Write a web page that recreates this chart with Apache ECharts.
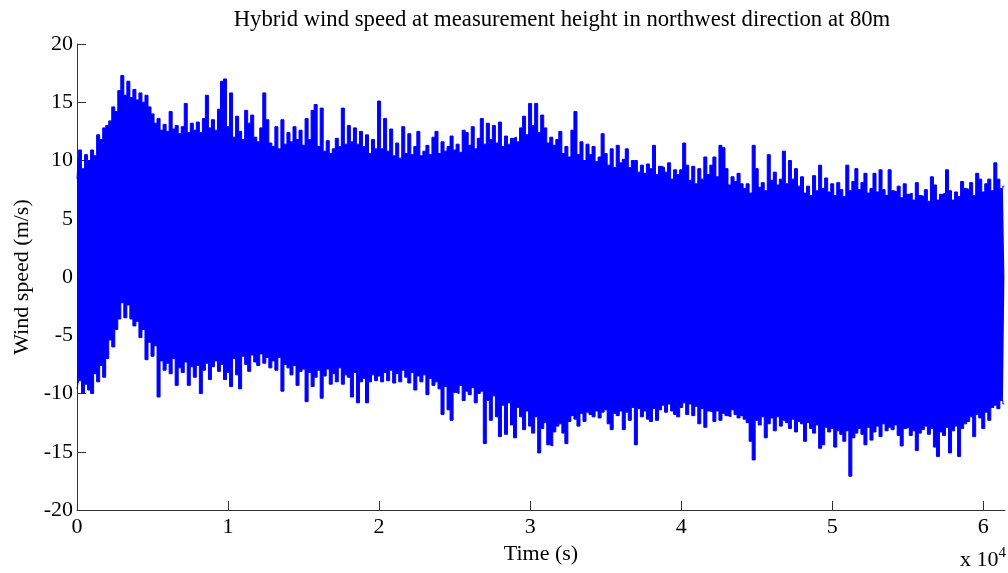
<!DOCTYPE html>
<html>
<head>
<meta charset="utf-8">
<script src="https://cdn.jsdelivr.net/npm/echarts@6/dist/echarts.min.js"></script>
<style>
  html, body { margin: 0; padding: 0; background: #fff; }
  #chart { width: 1008px; height: 573px; }
</style>
</head>
<body>
<div id="chart"></div>
<script>
// Sampling interval of the envelope records (seconds)
const SAMPLE_STEP = 200;
const T_END = 61440;

// Upper envelope of the hybrid wind speed (m/s), one value per SAMPLE_STEP
const upperEnvelope = [
  8.4, 10.9, 9.3, 10.5, 10.0,
  10.9, 10.4, 12.2, 11.8, 12.8,
  13.0, 13.4, 14.6, 14.2, 16.0,
  17.3, 15.6, 16.8, 15.4, 16.1,
  15.2, 15.8, 15.0, 15.6, 14.6,
  14.0, 13.2, 13.6, 12.6, 13.1,
  12.5, 14.2, 12.7, 13.0, 12.3,
  12.9, 14.9, 12.4, 13.2, 12.6,
  13.3, 12.4, 13.6, 15.6, 12.8,
  13.5, 12.6, 14.4, 16.8, 17.0,
  12.9, 15.8, 12.0, 13.8, 12.5,
  11.8, 14.3, 13.2, 13.9, 12.0,
  11.6, 12.8, 15.8, 13.5, 11.5,
  11.2, 12.9, 11.0, 13.5, 11.4,
  12.4, 11.6, 12.9, 11.8, 12.6,
  11.3, 13.6, 11.8, 14.3, 14.8,
  11.2, 14.5, 10.8, 11.7, 10.6,
  11.0, 11.9, 11.2, 14.5, 11.4,
  13.0, 11.6, 12.8, 11.4, 12.5,
  11.2, 12.2, 10.6, 11.8, 11.0,
  15.1, 11.0, 13.6, 10.8, 12.7,
  10.4, 11.5, 10.2, 12.9, 10.6,
  12.3, 10.5, 11.2, 12.5, 10.4,
  10.8, 11.3, 10.5, 12.0, 12.5,
  10.6, 11.6, 10.8, 11.2, 12.1,
  10.9, 11.4, 10.7, 12.6, 12.4,
  11.3, 12.9, 11.0, 11.9, 13.6,
  11.4, 13.2, 11.8, 13.0, 11.5,
  13.3, 11.2, 12.1, 11.4, 11.9,
  12.0, 11.6, 12.8, 13.8, 12.2,
  14.9, 13.0, 14.9, 12.4, 13.9,
  12.8, 11.5, 12.0, 11.3, 11.8,
  12.5, 10.6, 11.2, 10.3, 12.6,
  14.2, 10.5, 11.6, 10.0, 11.4,
  10.5, 11.2, 9.9, 10.3, 12.3,
  10.6, 9.6, 11.0, 9.4, 11.3,
  9.8, 10.1, 11.0, 9.4, 10.0,
  10.0, 9.0, 9.6, 8.9, 9.7,
  9.3, 11.3, 8.8, 9.5, 9.4,
  9.0, 9.8, 8.4, 9.2, 8.8,
  9.2, 11.5, 9.6, 8.3, 9.5,
  8.0, 9.3, 8.4, 10.3, 8.8,
  9.6, 10.3, 8.6, 11.3, 11.1,
  9.3, 7.9, 8.6, 8.2, 8.9,
  8.0, 7.6, 8.0, 7.2, 11.3,
  9.3, 7.7, 8.1, 7.4, 10.5,
  8.3, 9.0, 7.9, 8.4, 10.8,
  8.0, 10.0, 8.4, 9.3, 7.8,
  8.6, 7.2, 7.8, 7.0, 8.7,
  7.4, 9.6, 7.6, 8.5, 7.3,
  8.0, 7.0, 8.1, 7.5, 6.9,
  9.6, 7.4, 8.2, 9.3, 7.5,
  8.1, 8.9, 7.2, 7.6, 8.9,
  7.3, 9.2, 7.5, 7.0, 9.2,
  7.4, 7.3, 7.8, 6.8, 8.0,
  7.1, 7.2, 6.6, 8.1, 7.0,
  6.9, 7.5, 6.5, 8.6, 7.9,
  6.6, 7.1, 7.2, 9.2, 7.4,
  6.6, 7.3, 6.9, 8.2, 7.6,
  7.5, 8.1, 7.0, 8.9, 8.4,
  7.3, 8.0, 8.4, 7.4, 9.8,
  8.4, 7.6, 7.8
];

// Lower envelope of the hybrid wind speed (m/s), one value per SAMPLE_STEP
const lowerEnvelope = [
  -9.6, -8.9, -10.0, -9.2, -9.7,
  -10.0, -8.3, -9.0, -7.6, -8.6,
  -7.0, -5.4, -6.0, -4.5, -3.6,
  -2.2, -3.5, -2.4, -3.6, -4.2,
  -3.8, -5.2, -4.5, -7.1, -5.6,
  -6.8, -5.9, -10.3, -7.2, -8.0,
  -7.4, -8.3, -7.0, -9.3, -7.8,
  -8.2, -7.3, -9.3, -7.7, -8.6,
  -7.6, -10.0, -8.0, -7.4, -8.8,
  -7.7, -7.2, -8.1, -7.5, -8.8,
  -8.2, -9.4, -7.0, -8.4, -9.6,
  -6.8, -7.5, -8.1, -6.7, -7.3,
  -7.6, -6.6, -7.4, -6.9, -7.8,
  -7.2, -8.0, -6.9, -9.8, -7.5,
  -7.8, -8.4, -7.6, -9.3, -8.1,
  -7.9, -10.7, -8.2, -9.4, -8.6,
  -8.0, -10.4, -8.5, -7.9, -9.2,
  -8.3, -9.0, -7.8, -9.2, -8.4,
  -8.6, -10.3, -8.2, -10.8, -9.0,
  -8.7, -10.8, -9.0, -8.4, -8.9,
  -8.5, -9.0, -8.2, -8.9, -8.0,
  -9.1, -8.3, -9.0, -8.0, -8.6,
  -9.1, -8.2, -9.7, -8.5, -9.0,
  -8.4, -10.1, -8.7, -9.3, -9.0,
  -9.6, -11.8, -9.4, -11.4, -12.3,
  -9.9, -10.0, -9.3, -10.6, -9.8,
  -10.1, -9.5, -10.8, -10.0, -9.8,
  -14.3, -10.6, -12.3, -10.2, -12.0,
  -13.7, -11.0, -13.5, -10.8, -12.7,
  -13.8, -11.2, -12.0, -13.1, -11.5,
  -12.8, -13.4, -12.0, -15.1, -13.0,
  -12.5, -14.4, -14.5, -13.3, -12.8,
  -12.6, -13.4, -14.3, -12.4, -11.9,
  -12.2, -12.8, -11.7, -12.4, -11.6,
  -11.8, -12.0, -11.5, -12.1, -11.6,
  -11.4, -12.6, -13.1, -11.7, -11.9,
  -11.5, -13.1, -11.6, -12.3, -11.2,
  -14.4, -11.3, -12.0, -11.5, -12.2,
  -12.4, -11.3, -12.3, -11.4, -11.0,
  -11.6, -10.9, -11.5, -11.8, -12.0,
  -11.2, -10.8, -11.8, -10.9, -11.9,
  -11.1, -12.6, -11.3, -12.9, -11.5,
  -11.6, -12.4, -11.5, -12.3, -11.7,
  -11.9, -12.0, -11.4, -11.8, -12.1,
  -11.9, -12.2, -12.5, -14.1, -15.7,
  -12.3, -12.7, -12.0, -13.8, -12.6,
  -12.1, -13.2, -12.0, -12.8, -12.3,
  -12.5, -13.0, -12.2, -13.3, -12.4,
  -12.6, -14.1, -12.5, -13.0, -13.4,
  -12.7, -14.7, -14.4, -12.9, -13.3,
  -13.0, -14.6, -13.2, -13.5, -14.1,
  -13.2, -17.1, -13.8, -13.4, -13.0,
  -13.5, -14.4, -12.9, -14.0, -13.3,
  -12.8, -13.7, -12.6, -13.2, -12.9,
  -13.1, -12.7, -13.6, -14.5, -13.0,
  -12.9, -13.6, -13.2, -14.9, -13.4,
  -13.1, -12.8, -13.5, -13.0, -14.6,
  -15.4, -13.3, -13.6, -12.9, -15.1,
  -13.2, -12.8, -15.4, -13.0, -12.6,
  -12.4, -12.0, -13.7, -11.8, -12.1,
  -13.0, -11.6, -12.3, -11.2, -11.0,
  -11.3, -10.6, -10.9
];

// Tick positions and labels
const xTickValues = [0, 10000, 20000, 30000, 40000, 50000, 60000];
const xTickLabels = ['0', '1', '2', '3', '4', '5', '6'];
const yTickValues = [-20, -15, -10, -5, 0, 5, 10, 15, 20];

const upperData = upperEnvelope.map((v, i) => [i * SAMPLE_STEP, v]);
const lowerData = lowerEnvelope.map((v, i) => [i * SAMPLE_STEP, v]);

const FONT = '"Liberation Serif", "Times New Roman", serif';
const AXIS_COLOR = '#333';
const BLUE = '#0000ff';

const chart = echarts.init(document.getElementById('chart'), null, { renderer: 'canvas' });

// Each envelope is a filled trace running out from the zero line
const envelopeSeries = (name, data) => ({
  name,
  type: 'line',
  data,
  step: 'middle',
  showSymbol: false,
  symbol: 'none',
  sampling: 'none',
  animation: false,
  silent: true,
  lineStyle: { color: BLUE, width: 1 },
  areaStyle: { color: BLUE, opacity: 1 },
  z: 2
});

chart.setOption({
  animation: false,
  backgroundColor: '#fff',
  grid: { left: 77, right: 3, top: 44, bottom: 63, containLabel: false, outerBoundsMode: 'none' },
  title: {
    text: 'Hybrid wind speed at measurement height in northwest direction at 80m',
    left: 557,
    top: 4,
    textAlign: 'center',
    textStyle: { fontFamily: FONT, fontSize: 22.7, fontWeight: 'normal', color: '#000' }
  },
  xAxis: {
    type: 'value',
    min: 0,
    max: T_END,
    interval: 10000,
    name: 'Time (s)',
    nameLocation: 'middle',
    nameGap: 33,
    nameTextStyle: { fontFamily: FONT, fontSize: 22, color: '#000' },
    axisLine: { show: true, onZero: false, lineStyle: { color: AXIS_COLOR, width: 1 } },
    axisTick: { show: true, inside: true, length: 9, customValues: xTickValues, lineStyle: { color: AXIS_COLOR } },
    axisLabel: {
      customValues: xTickValues,
      formatter: (v) => xTickLabels[xTickValues.indexOf(v)] ?? '',
      fontFamily: FONT, fontSize: 22, color: '#000', margin: 6
    },
    splitLine: { show: false }
  },
  yAxis: {
    type: 'value',
    min: -20,
    max: 20,
    interval: 5,
    name: 'Wind speed (m/s)',
    nameLocation: 'middle',
    nameGap: 44,
    nameRotate: 90,
    nameTextStyle: { fontFamily: FONT, fontSize: 22, color: '#000' },
    axisLine: { show: true, onZero: false, lineStyle: { color: AXIS_COLOR, width: 1 } },
    axisTick: { show: true, inside: true, length: 9, customValues: yTickValues, lineStyle: { color: AXIS_COLOR } },
    axisLabel: {
      customValues: yTickValues,
      fontFamily: FONT, fontSize: 22, color: '#000', margin: 4
    },
    splitLine: { show: false }
  },
  graphic: [{
    type: 'text',
    right: 2,
    bottom: 2,
    style: {
      text: '{b|x 10}{s|4}',
      rich: {
        b: { fontFamily: FONT, fontSize: 22, color: '#000', verticalAlign: 'bottom' },
        s: { fontFamily: FONT, fontSize: 15, color: '#000', verticalAlign: 'top', padding: [0, 0, 10, 0] }
      }
    }
  }],
  series: [
    envelopeSeries('upper', upperData),
    envelopeSeries('lower', lowerData)
  ]
});
</script>
</body>
</html>
